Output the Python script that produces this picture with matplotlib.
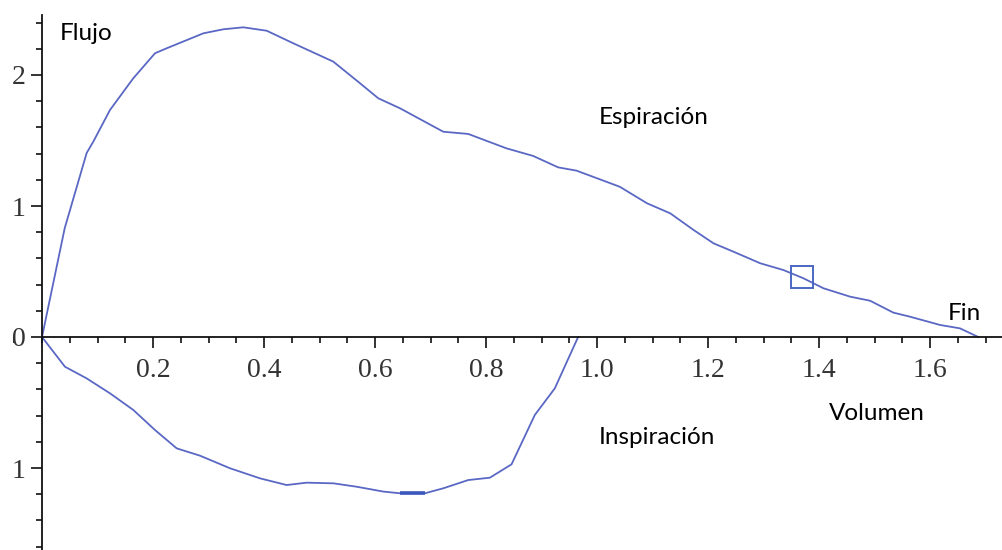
import numpy as np
import matplotlib as mpl
mpl.use('Agg')
import matplotlib.pyplot as plt
from matplotlib.ticker import MultipleLocator, FormatStrFormatter

#
#--- flow-volume loop: expiration (upper) and inspiration (lower) branches
#
vol_esp = [0.0, 0.041, 0.0805, 0.0924, 0.1225, 0.1645, 0.2036, 0.2247, 0.2906,
           0.3267, 0.3627, 0.4049, 0.4528, 0.5249, 0.573, 0.606, 0.645, 0.723,
           0.768, 0.837, 0.885, 0.930, 0.963, 1.041, 1.090, 1.132, 1.174, 1.210,
           1.246, 1.294, 1.336, 1.372, 1.408, 1.456, 1.492, 1.534, 1.564, 1.618,
           1.654, 1.687]
flow_esp = [0.0, 0.832, 1.405, 1.491, 1.733, 1.975, 2.166, 2.204, 2.318,
            2.349, 2.364, 2.338, 2.242, 2.102, 1.937, 1.822, 1.746, 1.567,
            1.550, 1.440, 1.382, 1.295, 1.270, 1.147, 1.021, 0.944, 0.817, 0.715,
            0.651, 0.563, 0.511, 0.448, 0.372, 0.308, 0.277, 0.186, 0.155, 0.092,
            0.066, 0.0]

vol_ins = [0.0, 0.0414, 0.0805, 0.1225, 0.1645, 0.2036, 0.2427, 0.2847, 0.3387,
           0.3928, 0.4408, 0.4769, 0.525, 0.567, 0.615, 0.645, 0.690, 0.723,
           0.768, 0.807, 0.846, 0.888, 0.924, 0.966]
flow_ins = [0.0, -0.227, -0.316, -0.43, -0.557, -0.71, -0.85, -0.906, -1.002,
            -1.079, -1.13, -1.112, -1.117, -1.143, -1.18, -1.193, -1.193, -1.155,
            -1.092, -1.074, -0.972, -0.595, -0.392, 0.0]

#--- peak inspiratory segment and marked point on the expiration branch
peak_ins_vol = [0.645, 0.690]
peak_ins_flow = [-1.193, -1.193]
mark_vol = 1.369
mark_flow = 0.458

yticks = [-1, 0, 1, 2]
ytick_labels = ['1', '0', '1', '2']

line_color = '#5a68c4'
mark_color = '#4a68c2'
tick_font = 'Liberation Serif'
text_font = ['Lato', 'DejaVu Sans']

plt.close('all')
fig = plt.figure(figsize=(10.02, 5.5), dpi=100)
ax = fig.add_axes([0, 0, 1, 1])
ax.set_xlim(-42 / 555., 960 / 555.)
ax.set_ylim(-213 / 131., 337 / 131.)

#
#--- axes crossing at the origin
#
for side in ('top', 'right'):
    ax.spines[side].set_visible(False)
ax.spines['left'].set_position(('data', 0))
ax.spines['bottom'].set_position(('data', 0))
ax.spines['left'].set_bounds(-213 / 131., 2.46)
ax.spines['bottom'].set_bounds(0, 960 / 555.)
for side in ('left', 'bottom'):
    ax.spines[side].set_linewidth(1.3)
    ax.spines[side].set_color('#111111')

ax.xaxis.set_minor_locator(MultipleLocator(0.05))
ax.xaxis.set_major_formatter(FormatStrFormatter('%.1f'))
ax.set_xticks([t for t in np.arange(0.2, 1.7, 0.2)])
ax.set_yticks(yticks)
ax.set_yticklabels(ytick_labels)
ax.yaxis.set_minor_locator(MultipleLocator(0.2))

ax.tick_params(axis='both', which='major', length=8, width=1.2, color='#111111',
               labelsize=20, labelcolor='#333333')
ax.tick_params(axis='both', which='minor', length=4.5, width=1.2, color='#111111')
ax.tick_params(axis='x', which='both', direction='out', pad=7)
ax.tick_params(axis='y', which='both', direction='out', pad=4)
for lab in ax.get_xticklabels() + ax.get_yticklabels():
    lab.set_family(tick_font)

#
#---- the loop itself
#
ax.plot(vol_esp, flow_esp, color=line_color, lw=1.3, solid_joinstyle='round')
ax.plot(vol_ins, flow_ins, color=line_color, lw=1.3, solid_joinstyle='round')
ax.plot(peak_ins_vol, peak_ins_flow, color='#3a58bc', lw=2.6, solid_capstyle='butt')
ax.plot([mark_vol], [mark_flow], marker='s', ms=16, mfc='none', mec=mark_color, mew=1.4)

#
#--- annotations
#
def px(x, y):
    return ((x - 42) / 555., (337 - y) / 131.)

notes = [('Flujo', 60, 33), ('Espiración', 599, 117), ('Inspiración', 599, 438),
         ('Volumen', 829, 413), ('Fin', 948, 313)]
for txt, x, y in notes:
    xd, yd = px(x, y)
    ax.text(xd, yd, txt, family=text_font, fontsize=17.5, color='black',
            ha='left', va='center')

plt.savefig('out.png', dpi=100)
